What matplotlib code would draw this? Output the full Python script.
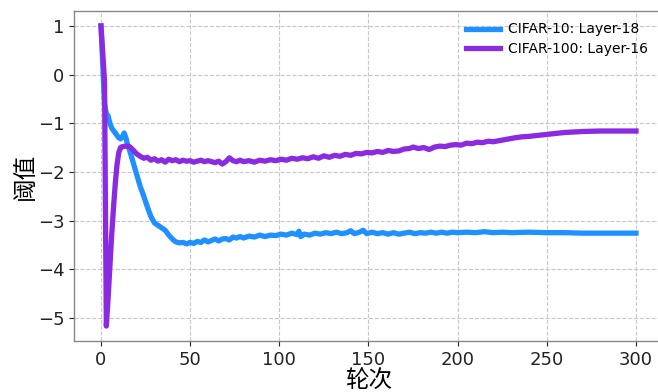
import matplotlib
matplotlib.use('Agg')
import matplotlib.pyplot as plt

# CIFAR-10, Layer-18 threshold per epoch
c10_epoch = [0, 1, 2, 3, 4, 5, 6, 7, 8, 9, 10, 11, 12, 13, 14, 15, 16, 18, 20, 22, 24, 26, 28,
             30, 32, 34, 36, 38, 40, 42, 44, 46, 48, 50, 52, 54, 56, 58, 60, 62, 64, 66, 68,
             70, 72, 74, 76, 78, 80, 83, 86, 89, 92, 95, 98, 101, 104, 107, 110, 111, 112,
             114, 117, 120, 123, 126, 129, 132, 135, 138, 140, 142, 145, 147, 149, 152, 155,
             158, 161, 164, 167, 170, 173, 176, 179, 182, 185, 188, 191, 194, 197, 200, 205,
             210, 215, 220, 225, 230, 240, 250, 260, 270, 280, 290, 300]
c10_value = [1.0, 0.2, -0.6, -0.8, -0.85, -1.0, -1.1, -1.15, -1.2, -1.25, -1.3, -1.32, -1.28,
             -1.2, -1.3, -1.45, -1.55, -1.8, -2.05, -2.3, -2.5, -2.72, -2.92, -3.05, -3.1,
             -3.15, -3.2, -3.3, -3.38, -3.44, -3.46, -3.45, -3.48, -3.45, -3.47, -3.43, -3.45,
             -3.40, -3.44, -3.41, -3.38, -3.42, -3.38, -3.37, -3.40, -3.34, -3.36, -3.33,
             -3.36, -3.32, -3.34, -3.30, -3.33, -3.30, -3.31, -3.28, -3.30, -3.26, -3.29,
             -3.22, -3.33, -3.28, -3.30, -3.26, -3.28, -3.25, -3.27, -3.24, -3.27, -3.25,
             -3.21, -3.27, -3.24, -3.20, -3.27, -3.24, -3.27, -3.25, -3.28, -3.25, -3.28,
             -3.26, -3.24, -3.27, -3.25, -3.26, -3.24, -3.26, -3.24, -3.26, -3.24, -3.25,
             -3.24, -3.25, -3.23, -3.25, -3.24, -3.25, -3.24, -3.25, -3.25, -3.26, -3.26,
             -3.26, -3.26]

# CIFAR-100, Layer-16 threshold per epoch
c100_epoch = [0, 1, 2, 3, 4, 5, 6, 7, 8, 9, 10, 11, 12, 14, 16, 18, 20, 22, 24, 26, 28, 30,
              32, 34, 36, 38, 40, 42, 44, 46, 48, 50, 52, 54, 56, 58, 60, 62, 64, 66, 68, 70,
              72, 74, 76, 78, 80, 83, 86, 89, 92, 95, 98, 101, 104, 107, 110, 113, 116, 119,
              122, 125, 128, 131, 134, 137, 140, 143, 146, 149, 152, 155, 158, 161, 164, 167,
              170, 173, 175, 178, 181, 184, 187, 190, 193, 196, 199, 202, 205, 208, 211, 214,
              217, 220, 223, 226, 229, 232, 236, 240, 245, 250, 255, 260, 265, 270, 280, 290,
              300]
c100_value = [1.0, 0.45, -0.15, -5.17, -4.6, -3.95, -3.3, -2.75, -2.25, -1.85, -1.6, -1.5,
              -1.48, -1.47, -1.48, -1.55, -1.63, -1.68, -1.72, -1.70, -1.76, -1.73, -1.78,
              -1.75, -1.80, -1.74, -1.77, -1.75, -1.79, -1.76, -1.78, -1.77, -1.80, -1.78,
              -1.76, -1.79, -1.77, -1.79, -1.81, -1.78, -1.84, -1.79, -1.71, -1.77, -1.79,
              -1.76, -1.79, -1.77, -1.80, -1.76, -1.78, -1.75, -1.77, -1.74, -1.76, -1.72,
              -1.74, -1.71, -1.73, -1.69, -1.72, -1.67, -1.70, -1.66, -1.68, -1.64, -1.66,
              -1.62, -1.63, -1.60, -1.61, -1.58, -1.60, -1.56, -1.58, -1.57, -1.53, -1.52,
              -1.49, -1.52, -1.50, -1.54, -1.49, -1.47, -1.48, -1.45, -1.44, -1.45, -1.41,
              -1.42, -1.39, -1.40, -1.37, -1.38, -1.36, -1.34, -1.32, -1.30, -1.28, -1.27,
              -1.25, -1.23, -1.21, -1.19, -1.18, -1.17, -1.16, -1.16, -1.16]

cjk = ['Noto Sans CJK SC', 'DejaVu Sans']

fig = plt.figure(figsize=(6.58, 3.92), dpi=100)
# right edge of the axes runs past the figure, as in the reference crop
ax = fig.add_axes([0.1128, 0.130, 0.8944, 0.842])

ax.plot(c10_epoch, c10_value, color='#1E90FF', lw=3.8, label='CIFAR-10: Layer-18')
ax.plot(c100_epoch, c100_value, color='#8A2BE2', lw=3.8, label='CIFAR-100: Layer-16')

ax.set_xlim(-15, 315)
ax.set_ylim(-5.478, 1.308)
ax.set_xticks([0, 50, 100, 150, 200, 250, 300])
ax.set_yticks([1, 0, -1, -2, -3, -4, -5])
ax.tick_params(labelsize=13, colors='#222222', length=3.5, width=0.8)
ax.grid(True, linestyle='--', color='#c8c8c8', lw=0.8)
for s in ax.spines.values():
    s.set_color('#888888')
    s.set_linewidth(1.0)

ax.set_xlabel('轮次', fontsize=17, family=cjk, labelpad=0)
ax.set_ylabel('阈值', fontsize=17, family=cjk, labelpad=1)

ax.legend(loc='upper right', bbox_to_anchor=(0.9933, 0.957), bbox_transform=fig.transFigure,
          frameon=False, fontsize=10, handlelength=2.45, handletextpad=0.58,
          labelspacing=0.42, borderaxespad=0)

fig.savefig('out.png', dpi=100)
